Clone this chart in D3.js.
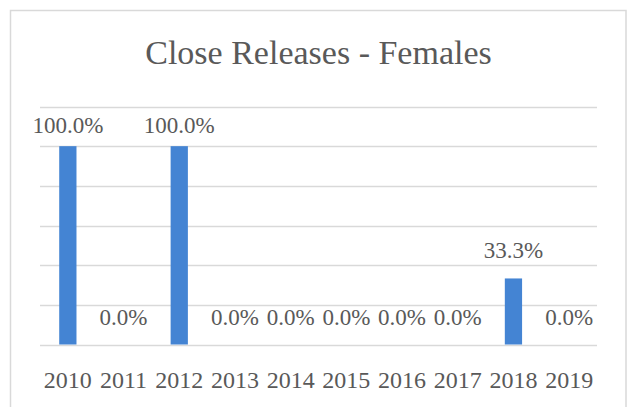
<!DOCTYPE html>
<html>
<head>
<meta charset="utf-8">
<script src="https://cdn.jsdelivr.net/npm/d3@7"></script>
<style>
  html, body { margin: 0; padding: 0; background: #fff; }
  svg { display: block; }
  text { font-family: "Liberation Serif", serif; fill: #595959; }
</style>
</head>
<body>
<svg id="chart" width="629" height="407"></svg>
<script>
const years = ["2010","2011","2012","2013","2014","2015","2016","2017","2018","2019"];
const values = [1.0, 0.0, 1.0, 0.0, 0.0, 0.0, 0.0, 0.0, 0.333, 0.0];
const labels = ["100.0%","0.0%","100.0%","0.0%","0.0%","0.0%","0.0%","0.0%","33.3%","0.0%"];
const yTicks = [0, 0.2, 0.4, 0.6, 0.8, 1.0, 1.2];
const title = "Close Releases - Females";

const FONT = '"Liberation Serif", serif';
const svg = d3.select("#chart");

svg.append("rect")
  .attr("x", 10.5).attr("y", 10.5)
  .attr("width", 615.5).attr("height", 410)
  .attr("fill", "#fff")
  .attr("stroke", "#d9d9d9").attr("stroke-width", 1.5);

const x = d3.scaleBand().domain(years).range([40, 597]).paddingInner(0.69).paddingOuter(0.345);
const y = d3.scaleLinear().domain([0, 1.2]).range([344.5, 106.5]);

// gridlines
svg.append("g")
  .selectAll("line")
  .data(yTicks)
  .join("line")
  .attr("x1", 40).attr("x2", 597)
  .attr("y1", d => Math.round(y(d)) + 0.5)
  .attr("y2", d => Math.round(y(d)) + 0.5)
  .attr("stroke", "#d9d9d9").attr("stroke-width", 1.3);

// bars
svg.append("g")
  .selectAll("rect")
  .data(values)
  .join("rect")
  .attr("x", (d, i) => x(years[i]))
  .attr("width", x.bandwidth())
  .attr("y", d => y(d))
  .attr("height", d => y(0) - y(d))
  .attr("fill", "#4484d3");

// data labels
svg.append("g")
  .selectAll("text")
  .data(values)
  .join("text")
  .attr("x", (d, i) => x(years[i]) + x.bandwidth() / 2)
  .attr("y", d => Math.max(y(d) - 20, y(1.2) + 26.5))
  .attr("text-anchor", "middle")
  .attr("font-size", 23)
  .style("font-family", FONT)
  .text((d, i) => labels[i]);

// x axis labels
const xAxis = d3.axisBottom(x).tickSize(0).tickPadding(0);
const gx = svg.append("g").attr("transform", `translate(0,${y(0)})`).call(xAxis);
gx.select(".domain").remove();
gx.selectAll("text")
  .attr("y", 43.5)
  .attr("dy", 0)
  .attr("font-size", 24)
  .attr("fill", "#595959")
  .style("font-family", FONT);

// title
svg.append("text")
  .attr("x", 318.5).attr("y", 64)
  .attr("text-anchor", "middle")
  .attr("font-size", 34)
  .style("font-family", FONT)
  .text(title);
</script>
</body>
</html>
